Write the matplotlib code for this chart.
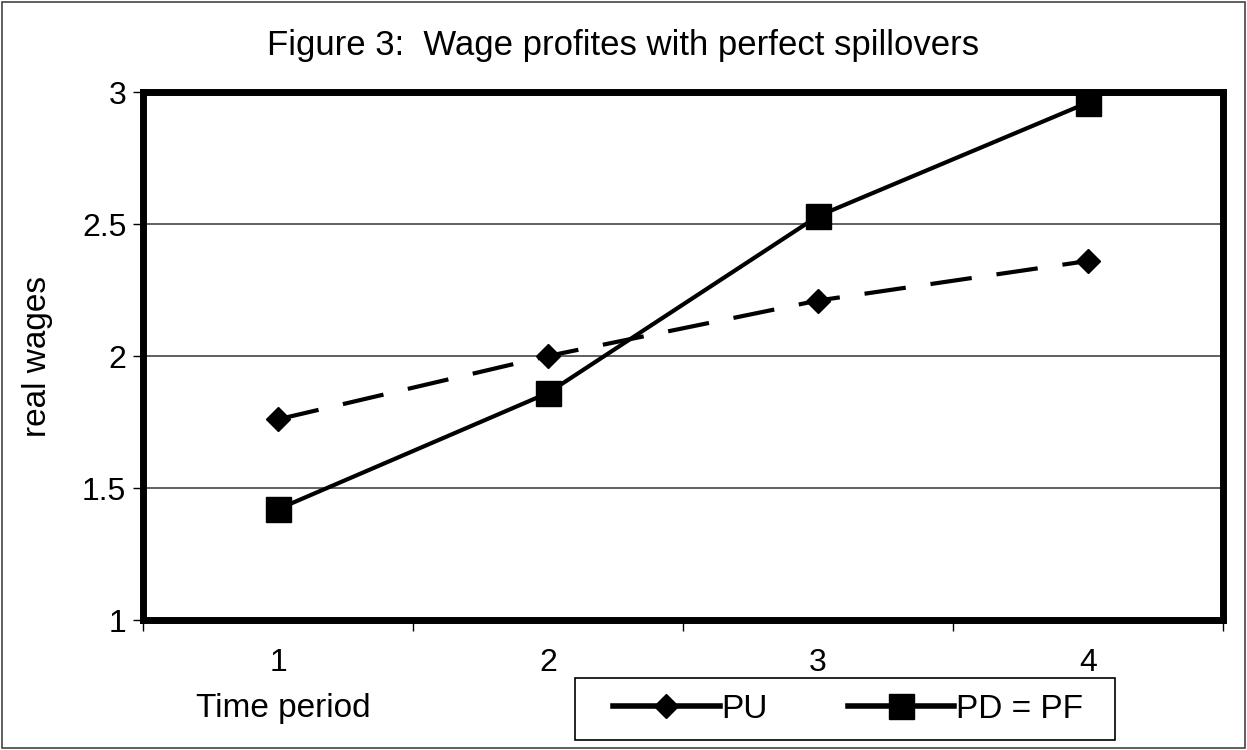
import matplotlib
matplotlib.use("Agg")
import matplotlib.pyplot as plt
from matplotlib.lines import Line2D
from matplotlib.patches import Rectangle

# Datos
periodos = [1, 2, 3, 4]
pu = [1.76, 2.00, 2.21, 2.36]
pd_pf = [1.42, 1.86, 2.53, 2.96]
y_ticks = [1, 1.5, 2, 2.5, 3]
y_tick_labels = ["1", "1.5", "2", "2.5", "3"]

plt.rcParams["font.family"] = ["Liberation Sans", "DejaVu Sans"]

fig = plt.figure(figsize=(12.47, 7.5), dpi=100)
ax = fig.add_axes([143 / 1247, 1 - 620 / 750, 1080 / 1247, 528 / 750])

# Borde exterior de la figura
fig.patches.append(Rectangle((0.002, 0.003), 0.996, 0.994, transform=fig.transFigure,
                             fill=False, edgecolor="#444444", linewidth=1.2))

ax.plot(periodos, pu, color="black", linewidth=3, dashes=(10, 6),
        marker="D", markersize=12, zorder=3)
ax.plot(periodos, pd_pf, color="black", linewidth=3, marker="s",
        markersize=18, zorder=3)

ax.set_xlim(0.5, 4.5)
ax.set_ylim(1, 3)
ax.set_yticks(y_ticks)
ax.set_yticklabels(y_tick_labels, fontsize=23)
ax.set_xticks([0.5, 1.5, 2.5, 3.5, 4.5])
ax.set_xticklabels([])
ax.set_xticks(periodos, minor=True)
ax.set_xticklabels([str(p) for p in periodos], minor=True, fontsize=23)
ax.tick_params(axis="x", which="minor", length=0, pad=20)
ax.tick_params(axis="x", which="major", direction="out", length=8, width=1)
ax.tick_params(axis="y", direction="out", length=7, width=1, pad=5)

ax.grid(axis="y", color="#444444", linewidth=1.2)
ax.set_axisbelow(True)
for spine in ax.spines.values():
    spine.set_linewidth(5)
    spine.set_color("black")

ax.set_ylabel("real wages", fontsize=24)
ax.yaxis.set_label_coords(-0.083, 0.5)
fig.text(0.5, 1 - 45 / 750, "Figure 3:  Wage profites with perfect spillovers",
         ha="center", va="center", fontsize=25)
fig.text(283 / 1247, 1 - 708 / 750, "Time period", ha="center", va="center",
         fontsize=24)

# Leyenda con marco propio
fig.patches.append(Rectangle((575 / 1247, 1 - 740 / 750), 540 / 1247, 62 / 750,
                             transform=fig.transFigure, fill=False,
                             edgecolor="black", linewidth=1.2))
handles = [
    Line2D([], [], color="black", linewidth=4, marker="D", markersize=12),
    Line2D([], [], color="black", linewidth=4, marker="s", markersize=18),
]
fig.legend(handles, ["PU", "PD = PF"], loc="center",
           bbox_to_anchor=(848 / 1247, 1 - 709 / 750), ncol=2,
           fontsize=24, frameon=False,
           handlelength=3.2, handletextpad=0.05, columnspacing=2.4,
           borderpad=0.45)

fig.savefig("out.png", dpi=100)
